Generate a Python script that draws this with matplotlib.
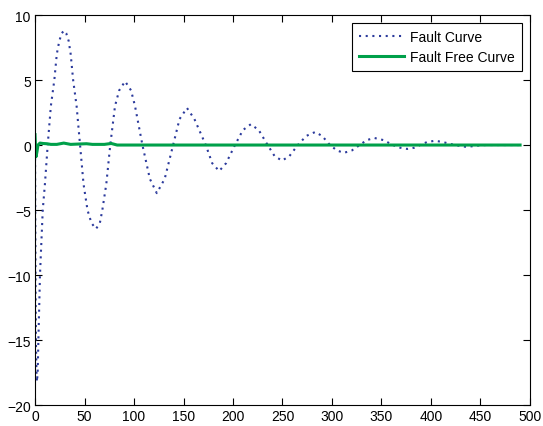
import numpy as np
import matplotlib.pyplot as plt

# fault curve: values
fault_x = [0, 0.3, 0.6, 1.0, 1.5, 2.0, 2.7, 3.4, 5.0, 7.8, 10.0, 12.8, 16.0, 19.5,
           22.0, 24.5, 27.0, 29.3, 31.5, 34.0, 36.0, 38.5, 42.0, 45.5, 49.0, 53.0,
           57.0, 61.6, 65.5, 68.0, 72.0, 76.0, 80.8, 85.0, 91.0, 97.0, 101.0, 108.5,
           116.0, 123.0, 131.0, 139.5, 146.0, 153.5, 161.0, 172.5, 179.0, 186.0,
           193.0, 202.0, 210.0, 218.0, 226.0, 235.0, 242.0, 249.5, 257.0, 265.5,
           274.0, 283.0, 290.0, 298.0, 305.0, 312.0, 320.0, 328.0, 335.0, 343.0,
           352.0, 361.5, 369.0, 376.0, 383.0, 389.0, 396.0, 404.0, 412.0, 424.0,
           436.0, 446.0, 455.0, 490.0]
fault_y = [0, -6.0, -11.5, -15.5, -17.6, -18.2, -17.4, -15.0, -10.0, -5.0, -3.0, 0.0,
           3.0, 5.0, 7.0, 8.0, 8.6, 8.8, 8.6, 8.0, 7.0, 5.0, 3.0, 0.0, -3.0, -5.0,
           -6.0, -6.45, -6.0, -5.0, -3.0, 0.0, 3.0, 4.2, 4.9, 4.2, 3.0, 0.0,
           -2.6, -3.7, -2.6, 0.0, 2.0, 2.85, 2.0, 0.0, -1.4, -2.0,
           -1.4, 0.0, 1.15, 1.6, 1.15, 0.0, -0.85, -1.2, -0.85, 0.0,
           0.7, 1.0, 0.7, 0.0, -0.42, -0.6, -0.42, 0.0, 0.38, 0.54,
           0.38, 0.0, -0.21, -0.3, -0.21, 0.0, 0.23, 0.33, 0.23, 0.0,
           -0.15, -0.05, 0.0, 0.0]

# fault free curve
free_x = [0, 0.5, 1.0, 2.0, 3.0, 5.0, 8.0, 12.0, 16.0, 22.0, 29.0, 36.0, 45.0,
          52.0, 58.0, 70.0, 77.0, 83.0, 490.0]
free_y = [0.8, -0.2, -0.9, -0.5, 0.0, 0.15, 0.12, 0.1, 0.05, 0.05, 0.15, 0.05,
          0.08, 0.1, 0.05, 0.05, 0.12, 0.0, 0.0]

plt.rcParams['font.family'] = ['Liberation Sans', 'DejaVu Sans']
plt.rcParams['font.size'] = 10

fig = plt.figure(figsize=(5.43, 4.27), dpi=100)
ax = fig.add_axes([0.0645, 0.049, 0.9115, 0.9135])

ax.plot(fault_x, fault_y, linestyle=(0, (1, 2.2)), color='#2b3a9c',
        linewidth=1.5, label='Fault Curve')
ax.plot(free_x, free_y, linestyle='-', color='#00a04a', linewidth=2.2,
        label='Fault Free Curve')

ax.set_xlim(0, 500)
ax.set_ylim(-20, 10)
ax.set_xticks(np.arange(0, 501, 50))
ax.set_yticks(np.arange(-20, 11, 5))
ax.tick_params(direction='in', top=True, right=True, length=5, width=0.8,
               labelsize=10, pad=3)
for s in ax.spines.values():
    s.set_linewidth(0.8)

leg = ax.legend(loc='upper right', fancybox=False, framealpha=1,
                edgecolor='black', handlelength=3.2, handletextpad=0.45,
                labelspacing=0.38, borderpad=0.55, borderaxespad=0.55,
                fontsize=10)
leg.get_frame().set_linewidth(0.8)

fig.savefig('out.png', dpi=100)
